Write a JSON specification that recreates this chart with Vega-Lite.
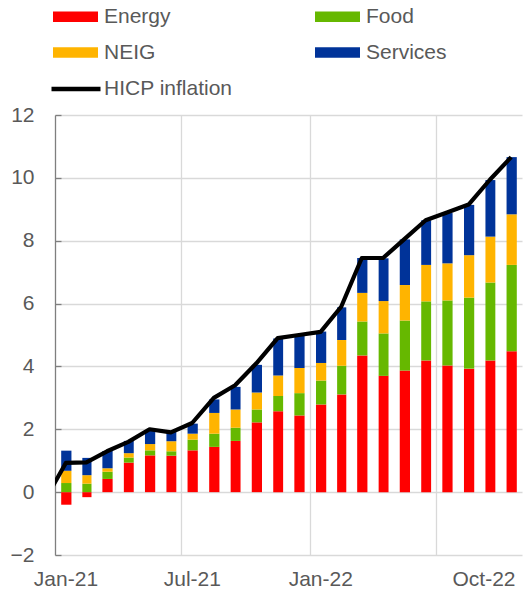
{
  "$schema": "https://vega.github.io/schema/vega-lite/v6.json",
  "width": 467,
  "height": 440,
  "autosize": "none",
  "padding": {"left": 55, "top": 115, "right": 3, "bottom": 39},
  "background": "white",
  "config": {
    "font": "Liberation Sans",
    "view": {"stroke": null},
    "axis": {"labelFont": "Liberation Sans", "labelFontSize": 21, "labelColor": "#595959", "gridColor": "#d9d9d9", "gridWidth": 1.3},
    "legend": {"labelFont": "Liberation Sans", "labelFontSize": 21, "labelColor": "#595959"}
  },
  "datasets": {
    "components": [
      {"date": "2021-01-15", "component": "Energy", "value": -0.40},
      {"date": "2021-01-15", "component": "Food", "value": 0.29},
      {"date": "2021-01-15", "component": "NEIG", "value": 0.39},
      {"date": "2021-01-15", "component": "Services", "value": 0.64},
      {"date": "2021-02-15", "component": "Energy", "value": -0.16},
      {"date": "2021-02-15", "component": "Food", "value": 0.27},
      {"date": "2021-02-15", "component": "NEIG", "value": 0.27},
      {"date": "2021-02-15", "component": "Services", "value": 0.55},
      {"date": "2021-03-15", "component": "Energy", "value": 0.42},
      {"date": "2021-03-15", "component": "Food", "value": 0.23},
      {"date": "2021-03-15", "component": "NEIG", "value": 0.11},
      {"date": "2021-03-15", "component": "Services", "value": 0.55},
      {"date": "2021-04-15", "component": "Energy", "value": 0.94},
      {"date": "2021-04-15", "component": "Food", "value": 0.16},
      {"date": "2021-04-15", "component": "NEIG", "value": 0.14},
      {"date": "2021-04-15", "component": "Services", "value": 0.39},
      {"date": "2021-05-15", "component": "Energy", "value": 1.17},
      {"date": "2021-05-15", "component": "Food", "value": 0.16},
      {"date": "2021-05-15", "component": "NEIG", "value": 0.20},
      {"date": "2021-05-15", "component": "Services", "value": 0.42},
      {"date": "2021-06-15", "component": "Energy", "value": 1.16},
      {"date": "2021-06-15", "component": "Food", "value": 0.14},
      {"date": "2021-06-15", "component": "NEIG", "value": 0.32},
      {"date": "2021-06-15", "component": "Services", "value": 0.30},
      {"date": "2021-07-15", "component": "Energy", "value": 1.33},
      {"date": "2021-07-15", "component": "Food", "value": 0.34},
      {"date": "2021-07-15", "component": "NEIG", "value": 0.19},
      {"date": "2021-07-15", "component": "Services", "value": 0.32},
      {"date": "2021-08-15", "component": "Energy", "value": 1.44},
      {"date": "2021-08-15", "component": "Food", "value": 0.42},
      {"date": "2021-08-15", "component": "NEIG", "value": 0.66},
      {"date": "2021-08-15", "component": "Services", "value": 0.43},
      {"date": "2021-09-15", "component": "Energy", "value": 1.63},
      {"date": "2021-09-15", "component": "Food", "value": 0.42},
      {"date": "2021-09-15", "component": "NEIG", "value": 0.58},
      {"date": "2021-09-15", "component": "Services", "value": 0.72},
      {"date": "2021-10-15", "component": "Energy", "value": 2.22},
      {"date": "2021-10-15", "component": "Food", "value": 0.41},
      {"date": "2021-10-15", "component": "NEIG", "value": 0.54},
      {"date": "2021-10-15", "component": "Services", "value": 0.88},
      {"date": "2021-11-15", "component": "Energy", "value": 2.57},
      {"date": "2021-11-15", "component": "Food", "value": 0.49},
      {"date": "2021-11-15", "component": "NEIG", "value": 0.65},
      {"date": "2021-11-15", "component": "Services", "value": 1.18},
      {"date": "2021-12-15", "component": "Energy", "value": 2.44},
      {"date": "2021-12-15", "component": "Food", "value": 0.71},
      {"date": "2021-12-15", "component": "NEIG", "value": 0.80},
      {"date": "2021-12-15", "component": "Services", "value": 1.02},
      {"date": "2022-01-15", "component": "Energy", "value": 2.79},
      {"date": "2022-01-15", "component": "Food", "value": 0.76},
      {"date": "2022-01-15", "component": "NEIG", "value": 0.56},
      {"date": "2022-01-15", "component": "Services", "value": 1.00},
      {"date": "2022-02-15", "component": "Energy", "value": 3.11},
      {"date": "2022-02-15", "component": "Food", "value": 0.91},
      {"date": "2022-02-15", "component": "NEIG", "value": 0.82},
      {"date": "2022-02-15", "component": "Services", "value": 1.04},
      {"date": "2022-03-15", "component": "Energy", "value": 4.35},
      {"date": "2022-03-15", "component": "Food", "value": 1.08},
      {"date": "2022-03-15", "component": "NEIG", "value": 0.91},
      {"date": "2022-03-15", "component": "Services", "value": 1.11},
      {"date": "2022-04-15", "component": "Energy", "value": 3.70},
      {"date": "2022-04-15", "component": "Food", "value": 1.35},
      {"date": "2022-04-15", "component": "NEIG", "value": 1.03},
      {"date": "2022-04-15", "component": "Services", "value": 1.36},
      {"date": "2022-05-15", "component": "Energy", "value": 3.87},
      {"date": "2022-05-15", "component": "Food", "value": 1.59},
      {"date": "2022-05-15", "component": "NEIG", "value": 1.13},
      {"date": "2022-05-15", "component": "Services", "value": 1.45},
      {"date": "2022-06-15", "component": "Energy", "value": 4.19},
      {"date": "2022-06-15", "component": "Food", "value": 1.88},
      {"date": "2022-06-15", "component": "NEIG", "value": 1.16},
      {"date": "2022-06-15", "component": "Services", "value": 1.42},
      {"date": "2022-07-15", "component": "Energy", "value": 4.03},
      {"date": "2022-07-15", "component": "Food", "value": 2.07},
      {"date": "2022-07-15", "component": "NEIG", "value": 1.18},
      {"date": "2022-07-15", "component": "Services", "value": 1.60},
      {"date": "2022-08-15", "component": "Energy", "value": 3.93},
      {"date": "2022-08-15", "component": "Food", "value": 2.26},
      {"date": "2022-08-15", "component": "NEIG", "value": 1.35},
      {"date": "2022-08-15", "component": "Services", "value": 1.60},
      {"date": "2022-09-15", "component": "Energy", "value": 4.19},
      {"date": "2022-09-15", "component": "Food", "value": 2.48},
      {"date": "2022-09-15", "component": "NEIG", "value": 1.46},
      {"date": "2022-09-15", "component": "Services", "value": 1.80},
      {"date": "2022-10-15", "component": "Energy", "value": 4.48},
      {"date": "2022-10-15", "component": "Food", "value": 2.75},
      {"date": "2022-10-15", "component": "NEIG", "value": 1.61},
      {"date": "2022-10-15", "component": "Services", "value": 1.82}
    ],
    "hicp": [
      {"date": "2020-12-15", "series": "HICP inflation", "value": -0.3},
      {"date": "2021-01-15", "series": "HICP inflation", "value": 0.93},
      {"date": "2021-02-15", "series": "HICP inflation", "value": 0.95},
      {"date": "2021-03-15", "series": "HICP inflation", "value": 1.3},
      {"date": "2021-04-15", "series": "HICP inflation", "value": 1.6},
      {"date": "2021-05-15", "series": "HICP inflation", "value": 2.0},
      {"date": "2021-06-15", "series": "HICP inflation", "value": 1.9},
      {"date": "2021-07-15", "series": "HICP inflation", "value": 2.2},
      {"date": "2021-08-15", "series": "HICP inflation", "value": 3.0},
      {"date": "2021-09-15", "series": "HICP inflation", "value": 3.4},
      {"date": "2021-10-15", "series": "HICP inflation", "value": 4.1},
      {"date": "2021-11-15", "series": "HICP inflation", "value": 4.9},
      {"date": "2021-12-15", "series": "HICP inflation", "value": 5.0},
      {"date": "2022-01-15", "series": "HICP inflation", "value": 5.1},
      {"date": "2022-02-15", "series": "HICP inflation", "value": 5.9},
      {"date": "2022-03-15", "series": "HICP inflation", "value": 7.45},
      {"date": "2022-04-15", "series": "HICP inflation", "value": 7.45},
      {"date": "2022-05-15", "series": "HICP inflation", "value": 8.05},
      {"date": "2022-06-15", "series": "HICP inflation", "value": 8.65},
      {"date": "2022-07-15", "series": "HICP inflation", "value": 8.9},
      {"date": "2022-08-15", "series": "HICP inflation", "value": 9.15},
      {"date": "2022-09-15", "series": "HICP inflation", "value": 9.94},
      {"date": "2022-10-15", "series": "HICP inflation", "value": 10.66}
    ]
  },
  "resolve": {"axis": {"x": "independent", "y": "independent"}},
  "layer": [
    {
      "data": {"name": "components"},
      "mark": {"type": "bar", "width": {"band": 0.52}, "stroke": null},
      "encoding": {
        "x": {
          "field": "date", "type": "temporal", "timeUnit": "yearmonth",
          "scale": {"domain": [{"year": 2021, "month": 1, "date": 1}, {"year": 2022, "month": 11, "date": 1}]},
          "axis": {
            "orient": "bottom", "title": null, "labels": false, "ticks": false, "domain": false, "grid": true,
            "values": [{"year": 2021, "month": 7, "date": 1}, {"year": 2022, "month": 1, "date": 1}, {"year": 2022, "month": 7, "date": 1}]
          }
        },
        "y": {
          "field": "value", "type": "quantitative", "stack": "zero",
          "scale": {"domain": [-2, 12], "nice": false},
          "axis": {
            "orient": "left", "title": null, "values": [-2, 0, 2, 4, 6, 8, 10, 12], "grid": true,
            "domain": true, "domainColor": "#7f7f7f", "domainWidth": 1.3,
            "ticks": true, "tickSize": -6, "tickColor": "#7f7f7f", "tickWidth": 1.3,
            "labelPadding": 27
          }
        },
        "color": {
          "field": "component", "type": "nominal",
          "scale": {"domain": ["Energy", "Food", "NEIG", "Services"], "range": ["#ff0000", "#66b800", "#ffb400", "#003399"]},
          "legend": {
            "title": null, "orient": "none", "direction": "horizontal", "legendX": -2, "legendY": -121,
            "columns": 2, "columnPadding": 144, "rowPadding": 3,
            "symbolType": "M-1,-0.23H1V0.23H-1Z", "symbolSize": 2025, "symbolStrokeWidth": 0,
            "labelOffset": 6
          }
        },
        "order": {"field": "component", "type": "nominal", "sort": "ascending"}
      }
    },
    {
      "data": {"name": "hicp"},
      "mark": {"type": "line", "color": "black", "strokeWidth": 4.2, "clip": true, "strokeJoin": "round"},
      "encoding": {
        "x": {
          "field": "date", "type": "temporal", "timeUnit": "yearmonth", "bandPosition": 0.5,
          "axis": {
            "orient": "bottom", "title": null, "ticks": false, "domain": false, "grid": false, "labelPadding": 13,
            "values": [{"year": 2021, "month": 1, "date": 16}, {"year": 2021, "month": 7, "date": 16}, {"year": 2022, "month": 1, "date": 16}, {"year": 2022, "month": 10, "date": 22}],
            "labelExpr": "timeFormat(datum.value, '%b-%y')",
            "labelAlign": {"expr": "datum.value > datetime(2022, 8, 1) ? 'right' : 'center'"},
            "labelFlush": false
          }
        },
        "y": {"field": "value", "type": "quantitative", "scale": {"domain": [-2, 12], "nice": false}, "axis": null},
        "stroke": {
          "field": "series", "type": "nominal",
          "scale": {"range": ["black"]},
          "legend": {
            "title": null, "orient": "none", "legendX": -6, "legendY": -53,
            "symbolType": "stroke", "symbolSize": 2401, "symbolStrokeWidth": 4.5, "labelOffset": 1
          }
        }
      }
    }
  ]
}
